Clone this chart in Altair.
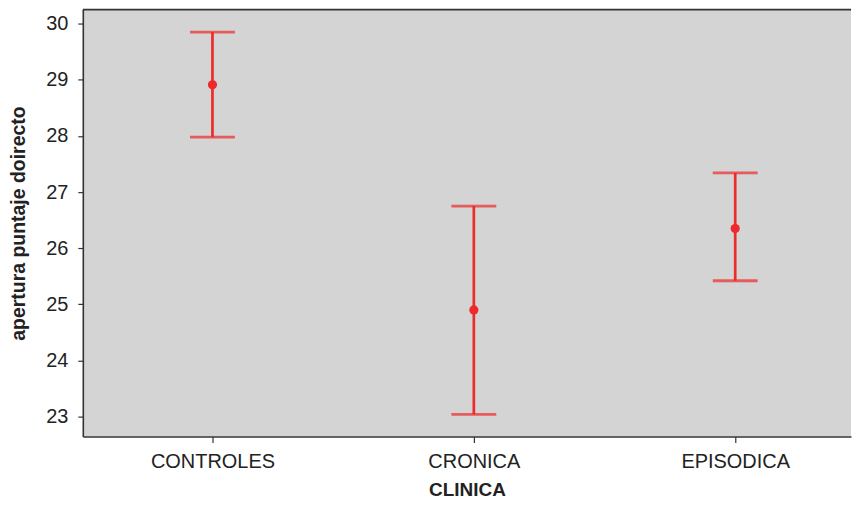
import json
import altair as alt
import pandas as pd

categories = ["CONTROLES", "CRONICA", "EPISODICA"]
means = [28.91, 24.90, 26.35]
lowers = [27.98, 23.04, 25.42]
uppers = [29.85, 26.75, 27.34]
y_ticks = [23, 24, 25, 26, 27, 28, 29, 30]

df = pd.DataFrame({"CLINICA": categories, "pos": list(range(len(categories))),
                   "mean": means, "lo": lowers, "hi": uppers})

RED = "#ee2a2a"
FONT = "Liberation Sans"
INK = "#222222"
FRAME = "#333333"
W, H = 770, 428

label_expr = json.dumps(categories) + "[datum.value]"
xscale = alt.Scale(domain=[-0.496, 2.443], nice=False, zero=False)
x = alt.X("pos:Q", scale=xscale,
          axis=alt.Axis(title="CLINICA", values=list(range(len(categories))),
                        labelExpr=label_expr, labelAngle=0, labelFontSize=20, labelFont=FONT,
                        labelColor=INK, titleFontSize=19, titleFont=FONT, titleColor=INK,
                        titleFontWeight="bold", tickSize=6, tickColor=FRAME, tickWidth=1.2,
                        domain=True, domainColor=FRAME, domainWidth=1.6, grid=False,
                        labelPadding=9, titlePadding=9))
yscale = alt.Scale(domain=[22.645, 30.25], nice=False, zero=False)
yaxis = alt.Axis(title="apertura puntaje doirecto", values=y_ticks, format="d",
                 labelFontSize=20, labelFont=FONT, labelColor=INK, titleFontSize=19.5,
                 titleFont=FONT, titleColor=INK, titleFontWeight="bold", tickSize=5,
                 tickColor=FRAME, tickWidth=1.2, domain=True, domainColor=FRAME,
                 domainWidth=1.6, grid=False, labelPadding=10, titlePadding=17)

base = alt.Chart(df)
rule = base.mark_rule(color=RED, strokeWidth=2.7).encode(
    x=x, y=alt.Y("lo:Q", scale=yscale, axis=yaxis), y2="hi:Q")
cap_lo = base.mark_tick(color=RED, thickness=2.8, size=45, orient="horizontal").encode(
    x=x, y=alt.Y("lo:Q", scale=yscale))
cap_hi = base.mark_tick(color=RED, thickness=2.8, size=45, orient="horizontal").encode(
    x=x, y=alt.Y("hi:Q", scale=yscale))
pt = base.mark_circle(color=RED, size=85, opacity=1).encode(
    x=x, y=alt.Y("mean:Q", scale=yscale))
frame_src = alt.Chart(pd.DataFrame({"k": [0]}))
top_frame = frame_src.mark_rule(color=FRAME, strokeWidth=1.6).encode(
    y=alt.value(0), x=alt.value(0), x2=alt.value(W))

chart = alt.layer(rule, cap_lo, cap_hi, pt, top_frame).properties(
    width=W, height=H,
    padding={"left": 0, "top": 0, "right": 0, "bottom": 0},
).configure_view(fill="#d4d4d4", stroke=None)

chart.save("out.html", embed_options={"renderer": "svg", "actions": False})
